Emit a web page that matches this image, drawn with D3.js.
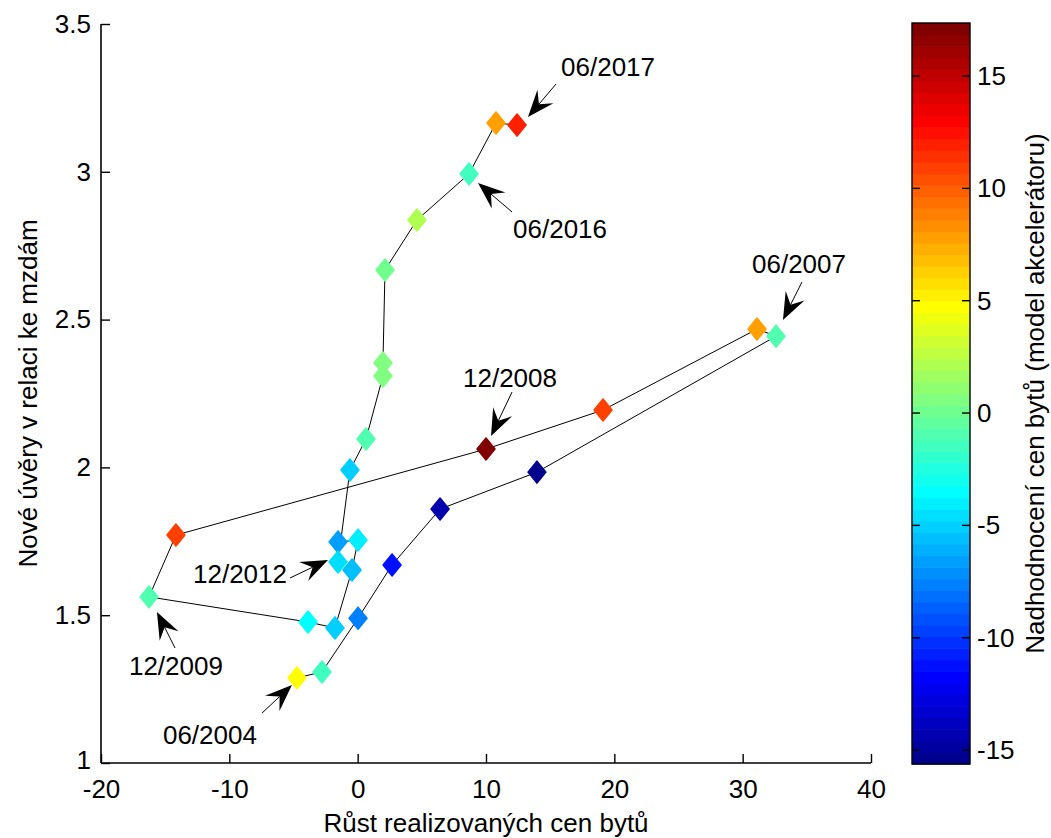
<!DOCTYPE html>
<html>
<head>
<meta charset="utf-8">
<script src="https://cdn.jsdelivr.net/npm/d3@7"></script>
<style>
  body { margin: 0; background: #fff; }
  text { font-family: "Liberation Sans", Arial, Helvetica, sans-serif; fill: #000; }
</style>
</head>
<body>
<svg id="chart" width="1051" height="838"></svg>
<script>
// Semi-annual observations, 06/2004 – 06/2017
const periods = [
  "06/2004","12/2004","06/2005","12/2005","06/2006","12/2006","06/2007","12/2007","06/2008",
  "12/2008","06/2009","12/2009","06/2010","12/2010","06/2011","12/2011","06/2012","12/2012",
  "06/2013","12/2013","06/2014","12/2014","06/2015","12/2015","06/2016","12/2016","06/2017"
];
// Růst realizovaných cen bytů (x)
const priceGrowth = [
  -4.73, -2.78, 0.03, 2.68, 6.42, 13.97, 32.6, 31.12, 19.12,
  10.0, -14.16, -16.26, -3.87, -1.77, -0.44, 0.03, -1.53, -1.53,
  -0.6, 0.65, 1.97, 1.97, 2.13, 4.62, 8.68, 10.78, 12.42
];
// Nové úvěry v relaci ke mzdám (y)
const loansToWages = [
  1.288, 1.308, 1.49, 1.670, 1.859, 1.984, 2.444, 2.468, 2.194,
  2.062, 1.771, 1.562, 1.477, 1.457, 1.653, 1.754, 1.748, 1.680,
  1.991, 2.096, 2.309, 2.353, 2.668, 2.837, 2.993, 3.165, 3.158
];
// Nadhodnocení cen bytů (model akcelerátoru) – marker colour
const overvaluation = [
  4.7, -1.2, -7.5, -11, -14.5, -15.62, -1.0, 8, 10.8,
  17.36, 11, -1, -3.6, -5, -5.7, -4.2, -6.4, -4.7,
  -5.0, -0.7, 0.4, 0.4, -0.1, 2, -1.4, 7.8, 12
];

const xTicks = [-20, -10, 0, 10, 20, 30, 40];
const yTicks = [1, 1.5, 2, 2.5, 3, 3.5];
const cTicks = [-15, -10, -5, 0, 5, 10, 15];

// Annotated periods: label position, arrow tail and arrow tip (data units)
const notePeriods = ["06/2004","06/2007","12/2008","12/2009","12/2012","06/2016","06/2017"];
const noteLabelX = [-11.51, 34.39, 11.87, -14.16, -9.17, 15.77, 19.51];
const noteLabelY = [1.064, 2.658, 2.272, 1.298, 1.609, 2.776, 3.324];
const noteTailX  = [-7.45, 34.62, 12.03, -14.23, -5.27, 12.03, 15.46];
const noteTailY  = [1.169, 2.627, 2.255, 1.389, 1.626, 2.864, 3.297];
const noteTipX   = [-5.12, 33.14, 10.39, -15.64, -2.31, 9.38, 13.27];
const noteTipY   = [1.264, 2.499, 2.106, 1.511, 1.687, 2.962, 3.185];

const xTitle = "Růst realizovaných cen bytů";
const yTitle = "Nové úvěry v relaci ke mzdám";
const cTitle = "Nadhodnocení cen bytů (model akcelerátoru)";

// ---- jet colormap (64 levels) ----
function jetMap(m) {
  const n = Math.ceil(m / 4);
  const u = [];
  for (let k = 1; k <= n; k++) u.push(k / n);
  for (let k = 1; k < n; k++) u.push(1);
  for (let k = n; k >= 1; k--) u.push(k / n);
  const gOff = Math.ceil(n / 2) - (m % 4 === 1 ? 1 : 0);
  const cols = Array.from({length: m}, () => [0, 0, 0]);
  u.forEach((val, k) => {
    const g = gOff + k + 1, r = g + n, b = g - n;
    if (r >= 1 && r <= m) cols[r - 1][0] = val;
    if (g >= 1 && g <= m) cols[g - 1][1] = val;
    if (b >= 1 && b <= m) cols[b - 1][2] = val;
  });
  return cols.map(c => d3.rgb(c[0] * 255, c[1] * 255, c[2] * 255).formatHex());
}
const jet = jetMap(64);
const [cMin, cMax] = d3.extent(overvaluation);
const colorIndex = d3.scaleQuantize().domain([cMin, cMax]).range(d3.range(64));
const colorOf = v => jet[colorIndex(v)];

const svg = d3.select("#chart");
const FS = 26;

const x = d3.scaleLinear().domain([-20, 40]).range([101, 871]);
const y = d3.scaleLinear().domain([1, 3.5]).range([763, 24]);

// ---- axes (left and bottom only, ticks pointing inward) ----
const xAxis = d3.axisBottom(x).tickValues(xTicks).tickSize(-9).tickPadding(17).tickFormat(d => String(d));
const gx = svg.append("g").attr("transform", `translate(0,${y(1)})`).call(xAxis);
const yAxis = d3.axisLeft(y).tickValues(yTicks).tickSize(-9).tickPadding(10).tickFormat(d => String(d));
const gy = svg.append("g").attr("transform", `translate(${x(-20)},0)`).call(yAxis);
[gx, gy].forEach(g => {
  g.select(".domain").attr("stroke", "#000").attr("stroke-width", 1.6)
    .attr("d", g === gx ? `M${x(-20)},0H${x(40)}` : `M0,${y(1)}V${y(3.5)}`);
  g.selectAll(".tick line").attr("stroke", "#000").attr("stroke-width", 1.4);
  g.selectAll(".tick text").attr("font-size", FS).attr("fill", "#000")
    .style("font-family", '"Liberation Sans", Arial, sans-serif');
});
gx.selectAll(".tick text").attr("dy", "0.71em");
// lowest y label sits slightly above its tick so it clears the x labels
gy.selectAll(".tick text").filter(d => d === yTicks[0]).attr("dy", "0.2em");

// axis titles
svg.append("text").attr("x", (x(-20) + x(40)) / 2).attr("y", 832)
  .attr("text-anchor", "middle").attr("font-size", FS).text(xTitle);
svg.append("text").attr("transform", `translate(37,${(y(1) + y(3.5)) / 2}) rotate(-90)`)
  .attr("text-anchor", "middle").attr("font-size", FS).text(yTitle);

// ---- trajectory ----
const pts = periods.map((p, i) => ({p, gx: priceGrowth[i], ly: loansToWages[i], ov: overvaluation[i]}));
svg.append("path").datum(pts)
  .attr("fill", "none").attr("stroke", "#000").attr("stroke-width", 1)
  .attr("d", d3.line().x(d => x(d.gx)).y(d => y(d.ly)));

// diamond markers
const hw = 9, hh = 11;
const diamond = `M0,${-hh}L${hw},0L0,${hh}L${-hw},0Z`;
svg.append("g").selectAll("path").data(pts).join("path")
  .attr("transform", d => `translate(${x(d.gx)},${y(d.ly)})`)
  .attr("d", diamond)
  .attr("fill", d => colorOf(d.ov))
  .attr("stroke", d => colorOf(d.ov))
  .attr("stroke-width", 1.5)
  .attr("stroke-linejoin", "round");

// ---- annotations with arrows ----
const notes = notePeriods.map((t, i) => ({
  t,
  lx: x(noteLabelX[i]), ly: y(noteLabelY[i]),
  x0: x(noteTailX[i]), y0: y(noteTailY[i]),
  x1: x(noteTipX[i]), y1: y(noteTipY[i])
}));
const ng = svg.append("g");
notes.forEach(n => {
  const dx = n.x1 - n.x0, dy = n.y1 - n.y0, len = Math.hypot(dx, dy);
  const ux = dx / len, uy = dy / len, px = -uy, py = ux;
  const L = 27, W = 10.5, notch = 17;
  ng.append("line").attr("x1", n.x0).attr("y1", n.y0)
    .attr("x2", n.x1 - ux * notch).attr("y2", n.y1 - uy * notch)
    .attr("stroke", "#000").attr("stroke-width", 1);
  const head = [
    [n.x1, n.y1],
    [n.x1 - ux * L + px * W, n.y1 - uy * L + py * W],
    [n.x1 - ux * notch, n.y1 - uy * notch],
    [n.x1 - ux * L - px * W, n.y1 - uy * L - py * W]
  ];
  ng.append("path").attr("d", "M" + head.map(p => p.join(",")).join("L") + "Z").attr("fill", "#000");
  ng.append("text").attr("x", n.lx).attr("y", n.ly).attr("text-anchor", "middle")
    .attr("font-size", FS).text(n.t);
});

// ---- colorbar ----
const cbX = 912, cbW = 58;
const cy = d3.scaleLinear().domain([cMin, cMax]).range([764, 23]);
const step = (cMax - cMin) / 64;
svg.append("g").selectAll("rect").data(jet).join("rect")
  .attr("x", cbX).attr("width", cbW)
  .attr("y", (c, i) => cy(cMin + (i + 1) * step))
  .attr("height", (c, i) => cy(cMin + i * step) - cy(cMin + (i + 1) * step) + 0.6)
  .attr("fill", c => c);
svg.append("rect").attr("x", cbX).attr("y", cy(cMax)).attr("width", cbW)
  .attr("height", cy(cMin) - cy(cMax)).attr("fill", "none").attr("stroke", "#000").attr("stroke-width", 1.4);
const cg = svg.append("g");
cTicks.forEach(t => {
  cg.append("line").attr("x1", cbX).attr("x2", cbX + 8).attr("y1", cy(t)).attr("y2", cy(t))
    .attr("stroke", "#000").attr("stroke-width", 1.4);
  cg.append("line").attr("x1", cbX + cbW - 8).attr("x2", cbX + cbW).attr("y1", cy(t)).attr("y2", cy(t))
    .attr("stroke", "#000").attr("stroke-width", 1.4);
  cg.append("text").attr("x", cbX + cbW + 7).attr("y", cy(t)).attr("dy", "0.35em")
    .attr("font-size", FS).text(String(t));
});
svg.append("text").attr("transform", `translate(1044,${(cy(cMin) + cy(cMax)) / 2}) rotate(-90)`)
  .attr("text-anchor", "middle").attr("font-size", FS).text(cTitle);
</script>
</body>
</html>
